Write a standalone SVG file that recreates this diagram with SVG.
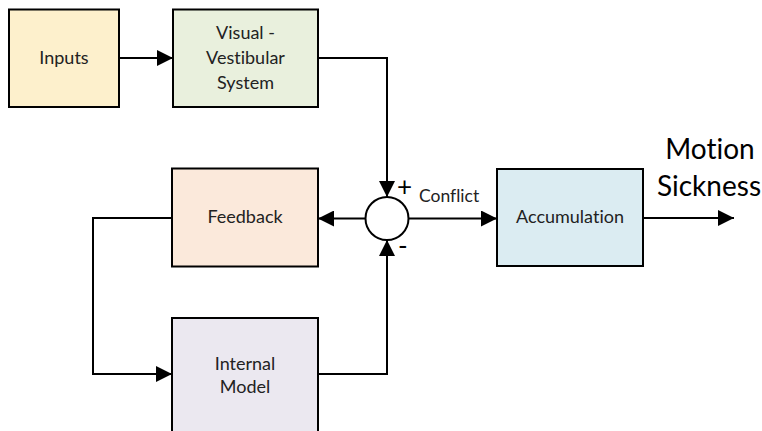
<svg xmlns="http://www.w3.org/2000/svg" width="762" height="431" viewBox="0 0 762 431">
  <defs>
    <marker id="arrow" viewBox="0 0 16 16" refX="16" refY="8" markerWidth="16" markerHeight="16" markerUnits="userSpaceOnUse" orient="auto">
      <path d="M0,0 L16,8 L0,16 Z" fill="#000"/>
    </marker>
  </defs>
  <style>
    text { font-variant-ligatures: none; font-feature-settings: "liga" 0; }
    .box { stroke: #000; stroke-width: 2; }
    .lbl { font-family: Lato, "Noto Sans", "DejaVu Sans", sans-serif; font-size: 18px; fill: #222; text-anchor: middle; }
    .wire { fill: none; stroke: #000; stroke-width: 2; }
    .sign { font-family: Lato, "DejaVu Sans", sans-serif; font-size: 26px; fill: #000; }
  </style>
  <rect width="762" height="431" fill="#fff"/>

  <g id="inputs">
    <rect class="box" x="9" y="9.5" width="110" height="97.5" fill="#fdf0cc"/>
    <text class="lbl" x="64" y="64">Inputs</text>
  </g>

  <g id="visual-vestibular">
    <rect class="box" x="173" y="9.5" width="145" height="97.5" fill="#e9f0dd"/>
    <text class="lbl" x="245.5" y="39">Visual -</text>
    <text class="lbl" x="245.5" y="64">Vestibular</text>
    <text class="lbl" x="245.5" y="89">System</text>
  </g>

  <g id="feedback">
    <rect class="box" x="172" y="168.5" width="146" height="98" fill="#fbe9db"/>
    <text class="lbl" x="245" y="223">Feedback</text>
  </g>

  <g id="internal-model">
    <rect class="box" x="172" y="318" width="146" height="125" fill="#ebe8f0"/>
    <text class="lbl" x="245" y="370">Internal</text>
    <text class="lbl" x="245" y="393">Model</text>
  </g>

  <g id="accumulation">
    <rect class="box" x="497" y="169" width="146" height="97" fill="#dbecf2"/>
    <text class="lbl" x="570" y="223">Accumulation</text>
  </g>

  <g id="summing-junction">
    <circle cx="387" cy="218.5" r="21.5" fill="#fff" stroke="#000" stroke-width="2"/>
    <text class="sign" x="397" y="196">+</text>
    <text class="sign" x="398" y="255">-</text>
  </g>

  <g id="connectors">
    <path class="wire" d="M119,58 H173" marker-end="url(#arrow)"/>
    <path class="wire" d="M318,58 H387 V197" marker-end="url(#arrow)"/>
    <path class="wire" d="M365.5,218.5 H318" marker-end="url(#arrow)"/>
    <path class="wire" d="M408.5,218.5 H497" marker-end="url(#arrow)"/>
    <path class="wire" d="M643,218 H734" marker-end="url(#arrow)"/>
    <path class="wire" d="M172,218 H93 V374 H172" marker-end="url(#arrow)"/>
    <path class="wire" d="M318,374 H387 V240" marker-end="url(#arrow)"/>
    <text x="419" y="202" font-family="Lato, 'DejaVu Sans', sans-serif" font-size="17.5" fill="#222">Conflict</text>
    <text x="710" y="159" font-family="Lato, 'DejaVu Sans', sans-serif" font-size="28" fill="#000" text-anchor="middle">Motion</text>
    <text x="709" y="196" font-family="Lato, 'DejaVu Sans', sans-serif" font-size="28" fill="#000" text-anchor="middle">Sickness</text>
  </g>
</svg>
